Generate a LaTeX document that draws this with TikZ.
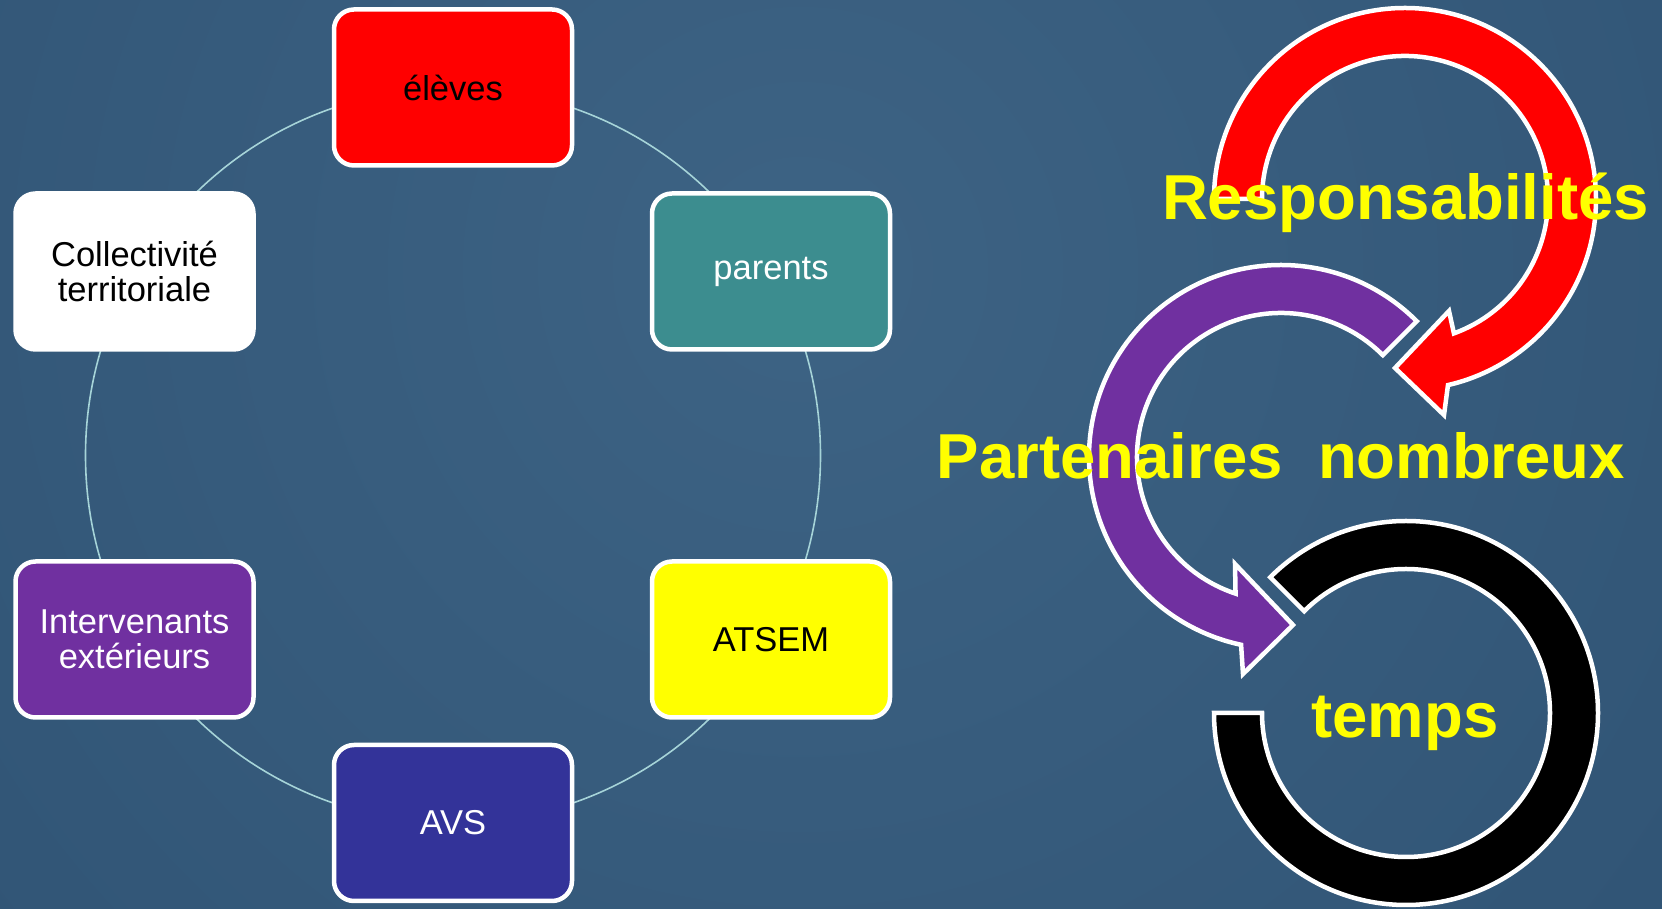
\documentclass[tikz,border=0pt]{standalone}
\usepackage{fontspec}
\setmainfont{Liberation Sans}
\usetikzlibrary{calc}
\definecolor{bgouter}{HTML}{2C4F70}
\definecolor{bginner}{HTML}{3D6384}
\definecolor{ringcol}{HTML}{A6D4D8}
\definecolor{tealbox}{HTML}{3C8D8F}
\definecolor{purplebox}{HTML}{7030A0}
\definecolor{avsblue}{HTML}{333399}
\definecolor{redbox}{HTML}{FF0000}
\definecolor{yellowbox}{HTML}{FFFF00}
\begin{document}
\begin{tikzpicture}[x=1pt,y=1pt,
  boxsty/.style={draw=white, line width=4.5pt, rounded corners=20pt,
    minimum width=238pt, minimum height=156pt, inner sep=0pt, align=center,
    font=\fontsize{34.5}{35.3}\selectfont},
  ringsty/.style={draw=ringcol, line width=1.6pt},
  arrowsty/.style={draw=white, line width=4.5pt, line join=miter},
  bigtxt/.style={text=yellowbox, inner sep=0pt,
    font=\fontsize{63.5}{70}\selectfont\bfseries}
]
\useasboundingbox (0,0) rectangle (1662,909);
% background
\begin{scope}
  \clip (0,0) rectangle (1662,909);
  \fill[bgouter] (0,0) rectangle (1662,909);
  \shade[inner color=bginner, outer color=bgouter] (800,640) circle[radius=1500];
\end{scope}

% ring of the cycle
\coordinate (ringc) at (453,453.5);
\draw[ringsty] (ringc) circle[radius=367.5];

% boxes
\node[boxsty, fill=redbox, text=black] (eleves) at (453,821.5) {élèves};
\node[boxsty, fill=tealbox, text=white] (parents) at (771,637.5) {parents};
\node[boxsty, fill=yellowbox, text=black] (atsem) at (771,269.5) {ATSEM};
\node[boxsty, fill=avsblue, text=white] (avs) at (453,86) {AVS};
\node[boxsty, fill=purplebox, text=white] (interv) at (134.5,269.5) {Intervenants\\extérieurs};
\node[boxsty, fill=white, text=black] (collec) at (134.5,637.5) {Collectivité\\territoriale};

% circular arrows
\coordinate (rc) at (1405,710);
\coordinate (pc) at (1281,452);
\coordinate (bc) at (1406,196);

\filldraw[arrowsty, fill=redbox]
  ($(rc)+(180:191)$) arc[start angle=180, end angle=-77, radius=191]
  -- (1444,494) -- (1395,541) -- (1449,598)
  -- ($(rc)+(-70:143)$) arc[start angle=-70, end angle=180, radius=143] -- cycle;

\filldraw[arrowsty, fill=purplebox]
  ($(pc)+(45:192)$) arc[start angle=45, end angle=258, radius=192]
  -- (1243,235) -- (1293,284) -- (1235,345)
  -- ($(pc)+(251.6:144)$) arc[start angle=251.6, end angle=45, radius=144] -- cycle;

\filldraw[arrowsty, fill=black]
  ($(bc)+(180:192)$) arc[start angle=180, end angle=495, radius=192]
  -- ($(bc)+(135:144)$) arc[start angle=495, end angle=180, radius=144] -- cycle;

% texts
\node[bigtxt, anchor=base] (resp) at (1405.5,689) {Responsabilités};
\node[bigtxt, anchor=base] (part) at (1281,430) {Partenaires\ \ nombreux};
\node[bigtxt, anchor=base] (temps) at (1405,171) {temps};
\end{tikzpicture}
\end{document}
